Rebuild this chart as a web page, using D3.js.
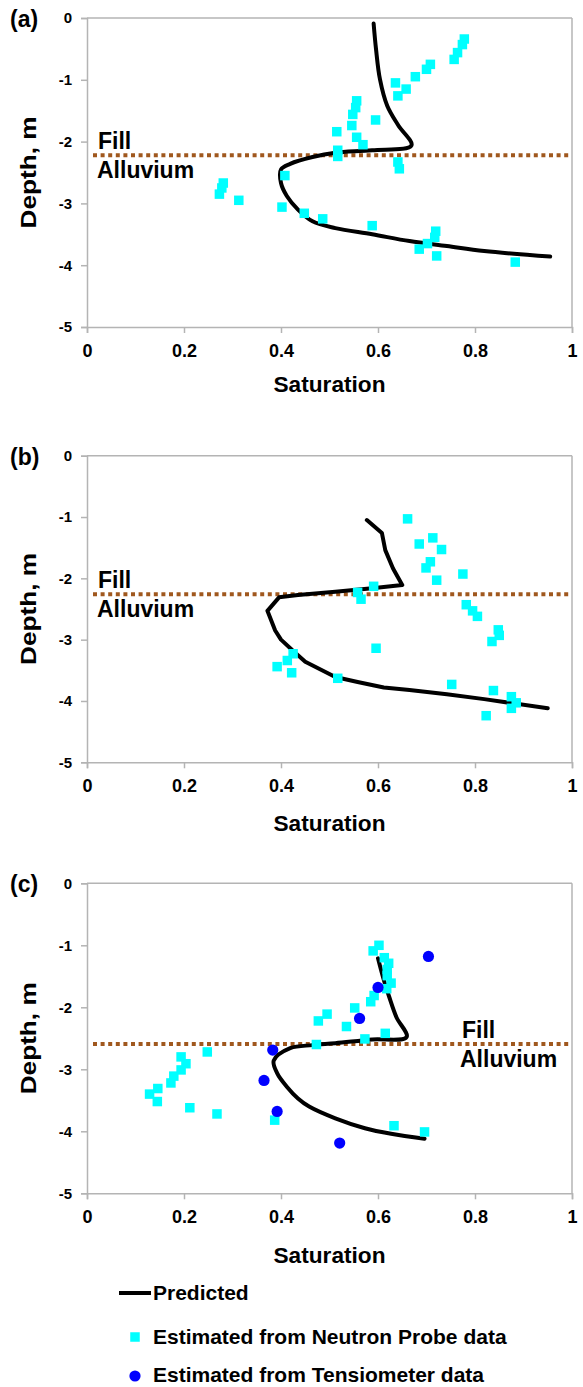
<!DOCTYPE html>
<html><head><meta charset="utf-8">
<script src="https://cdn.jsdelivr.net/npm/d3@7"></script>
<style>
body{margin:0;background:#fff}
svg{display:block}
text{font-family:"Liberation Sans",Arial,sans-serif;font-weight:bold;fill:#000}
</style>
</head><body>
<svg id="chart" width="583" height="1387"></svg>
<script>
// ---------- data ----------
const xTicks = [0, 0.2, 0.4, 0.6, 0.8, 1];
const yTicks = [0, -1, -2, -3, -4, -5];
const panelLabels = ["(a)", "(b)", "(c)"];
const boundaryDepth = [-2.22, -2.26, -2.59];
const layerLabels = ["Fill", "Alluvium"];
const legendLabels = ["Predicted", "Estimated from Neutron Probe data", "Estimated from Tensiometer data"];

// [saturation, depth]
const predictedA = [[0.591,-0.09],[0.596,-0.51],[0.604,-0.99],[0.619,-1.42],[0.642,-1.74],[0.669,-2.06],[0.588,-2.14],[0.512,-2.18],[0.465,-2.25],[0.419,-2.36],[0.400,-2.45],[0.400,-2.67],[0.412,-2.88],[0.435,-3.10],[0.465,-3.29],[0.512,-3.40],[0.588,-3.50],[0.665,-3.61],[0.742,-3.69],[0.819,-3.77],[0.955,-3.86]];
const predictedB = [[0.577,-1.05],[0.608,-1.26],[0.615,-1.54],[0.631,-1.84],[0.650,-2.11],[0.588,-2.16],[0.512,-2.22],[0.435,-2.27],[0.396,-2.31],[0.372,-2.53],[0.388,-2.85],[0.400,-3.00],[0.423,-3.17],[0.450,-3.36],[0.512,-3.61],[0.558,-3.69],[0.612,-3.78],[0.665,-3.82],[0.742,-3.89],[0.819,-3.97],[0.950,-4.12]];
const predictedC = [[0.600,-1.21],[0.612,-1.56],[0.623,-1.83],[0.638,-2.16],[0.659,-2.48],[0.588,-2.52],[0.512,-2.58],[0.465,-2.61],[0.419,-2.66],[0.385,-2.86],[0.392,-3.06],[0.412,-3.28],[0.435,-3.47],[0.458,-3.60],[0.512,-3.79],[0.573,-3.95],[0.627,-4.04],[0.696,-4.12]];

const neutronA = [[0.778,-0.34],[0.774,-0.43],[0.764,-0.56],[0.757,-0.67],[0.708,-0.75],[0.700,-0.83],[0.677,-0.95],[0.636,-1.05],[0.658,-1.15],[0.641,-1.26],[0.556,-1.34],[0.554,-1.45],[0.548,-1.56],[0.546,-1.74],[0.556,-1.93],[0.569,-2.05],[0.595,-1.65],[0.515,-1.84],[0.517,-2.14],[0.517,-2.24],[0.641,-2.33],[0.644,-2.44],[0.408,-2.55],[0.281,-2.67],[0.278,-2.75],[0.273,-2.85],[0.313,-2.95],[0.402,-3.06],[0.448,-3.16],[0.486,-3.25],[0.588,-3.36],[0.719,-3.45],[0.717,-3.55],[0.702,-3.65],[0.685,-3.74],[0.721,-3.85],[0.883,-3.95]];
const neutronB = [[0.661,-1.03],[0.685,-1.44],[0.713,-1.34],[0.731,-1.53],[0.708,-1.73],[0.699,-1.83],[0.721,-2.03],[0.775,-1.93],[0.591,-2.13],[0.558,-2.23],[0.565,-2.34],[0.782,-2.43],[0.795,-2.53],[0.805,-2.62],[0.848,-2.84],[0.850,-2.93],[0.835,-3.03],[0.596,-3.14],[0.425,-3.23],[0.413,-3.34],[0.392,-3.44],[0.422,-3.54],[0.517,-3.63],[0.752,-3.73],[0.838,-3.83],[0.875,-3.93],[0.885,-4.03],[0.875,-4.12],[0.823,-4.24]];
const neutronC = [[0.602,-1.00],[0.590,-1.09],[0.613,-1.20],[0.622,-1.29],[0.619,-1.39],[0.619,-1.49],[0.627,-1.61],[0.618,-1.70],[0.592,-1.81],[0.585,-1.91],[0.552,-2.01],[0.495,-2.11],[0.477,-2.22],[0.535,-2.31],[0.615,-2.42],[0.573,-2.51],[0.473,-2.60],[0.248,-2.72],[0.194,-2.80],[0.204,-2.91],[0.194,-3.01],[0.179,-3.11],[0.173,-3.22],[0.146,-3.31],[0.129,-3.40],[0.145,-3.52],[0.212,-3.62],[0.268,-3.72],[0.387,-3.82],[0.633,-3.91],[0.696,-4.01]];
const tensiometerC = [[0.704,-1.18],[0.600,-1.68],[0.562,-2.18],[0.383,-2.69],[0.365,-3.18],[0.392,-3.68],[0.521,-4.19]];

// ---------- layout ----------
const svg = d3.select("#chart");
const X0 = 87, X1 = 572;
const panels = [
  {label: panelLabels[0], top: 18,    bottom: 327,    pred: predictedA, curve: d3.curveCatmullRom.alpha(0.5), neutron: neutronA, tens: [], boundary: boundaryDepth[0], layerSide: "left",  titleDy: 65},
  {label: panelLabels[1], top: 455.7, bottom: 762.3,  pred: predictedB, curve: d3.curveLinear,                neutron: neutronB, tens: [], boundary: boundaryDepth[1], layerSide: "left",  titleDy: 69},
  {label: panelLabels[2], top: 883.3, bottom: 1193.3, pred: predictedC, curve: d3.curveCatmullRom.alpha(0.5), neutron: neutronC, tens: tensiometerC, boundary: boundaryDepth[2], layerSide: "right", titleDy: 70}
];

const AXIS_COLOR = "#b4b4b4";
const CYAN = "#00FFFF";
const BLUE = "#0000FF";
const BROWN = "#A0581E";
const SQ = 9.5;
const FONT = '"Liberation Sans",Arial,sans-serif';

panels.forEach(p => {
  const x = d3.scaleLinear().domain([0, 1]).range([X0, X1]);
  const y = d3.scaleLinear().domain([0, -5]).range([p.top, p.bottom]);
  const g = svg.append("g");

  // box (top and right borders)
  g.append("line").attr("x1", X0).attr("x2", X1).attr("y1", y(0)).attr("y2", y(0))
    .attr("stroke", AXIS_COLOR).attr("stroke-width", 1.5);
  g.append("line").attr("x1", X1).attr("x2", X1).attr("y1", y(0)).attr("y2", y(-5))
    .attr("stroke", AXIS_COLOR).attr("stroke-width", 1.5);

  // y axis
  const yAxis = g.append("g").attr("transform", `translate(${X0},0)`)
    .call(d3.axisLeft(y).tickValues(yTicks).tickSize(6).tickPadding(9).tickFormat(d => String(d)));
  yAxis.select(".domain").attr("stroke", AXIS_COLOR).attr("stroke-width", 1.5);
  yAxis.selectAll(".tick line").attr("stroke", AXIS_COLOR).attr("stroke-width", 1.5);
  yAxis.selectAll(".tick text").style("font-size", "15px").style("font-family", FONT).style("font-weight", "bold").attr("fill", "#000");

  // x axis
  const xAxis = g.append("g").attr("transform", `translate(0,${y(-5)})`)
    .call(d3.axisBottom(x).tickValues(xTicks).tickSize(6).tickPadding(11).tickFormat(d => String(d)));
  xAxis.select(".domain").attr("stroke", AXIS_COLOR).attr("stroke-width", 1.5);
  xAxis.selectAll(".tick text").style("font-size", "18px").style("font-family", FONT).style("font-weight", "bold").attr("fill", "#000");
  xAxis.selectAll(".tick line").attr("stroke", AXIS_COLOR).attr("stroke-width", 1.5);

  // titles
  g.append("text").attr("x", (X0 + X1) / 2).attr("y", y(-5) + p.titleDy)
    .attr("text-anchor", "middle").style("font-size", "22px")
    .attr("textLength", 112).attr("lengthAdjust", "spacingAndGlyphs").text("Saturation");
  const midY = (y(0) + y(-5)) / 2;
  g.append("text").attr("transform", `translate(36,${midY}) rotate(-90)`)
    .attr("text-anchor", "middle").style("font-size", "22px")
    .attr("textLength", 112).attr("lengthAdjust", "spacingAndGlyphs").text("Depth, m");
  g.append("text").attr("x", 10).attr("y", y(0) + 9).style("font-size", "23px").text(p.label);

  // boundary dotted line
  const by = y(p.boundary);
  g.append("line").attr("x1", X0 + 6).attr("x2", X1 - 2).attr("y1", by).attr("y2", by)
    .attr("stroke", BROWN).attr("stroke-width", 4).attr("stroke-dasharray", "4,3.6");
  const lx = p.layerSide === "left" ? 97 : 460;
  g.append("text").attr("x", lx + (p.layerSide === "left" ? 1 : 2)).attr("y", by - 6).style("font-size", "23px").text(layerLabels[0]);
  g.append("text").attr("x", lx).attr("y", by + 23).style("font-size", "23px").text(layerLabels[1]);

  // predicted line
  const line = d3.line().x(d => x(d[0])).y(d => y(d[1])).curve(p.curve);
  g.append("path").datum(p.pred).attr("d", line).attr("fill", "none")
    .attr("stroke", "#000").attr("stroke-width", 4).attr("stroke-linejoin", "round").attr("stroke-linecap", "round");

  // neutron probe squares
  g.selectAll("rect.np").data(p.neutron).join("rect").attr("class", "np")
    .attr("x", d => x(d[0]) - SQ / 2).attr("y", d => y(d[1]) - SQ / 2)
    .attr("width", SQ).attr("height", SQ).attr("fill", CYAN);

  // tensiometer circles
  g.selectAll("circle.ts").data(p.tens).join("circle").attr("class", "ts")
    .attr("cx", d => x(d[0])).attr("cy", d => y(d[1])).attr("r", 5.6).attr("fill", BLUE);
});

// ---------- legend ----------
const lg = svg.append("g");
lg.append("line").attr("x1", 119).attr("x2", 151).attr("y1", 1293).attr("y2", 1293)
  .attr("stroke", "#000").attr("stroke-width", 4);
lg.append("text").attr("x", 153).attr("y", 1300).style("font-size", "21px").text(legendLabels[0]);
lg.append("rect").attr("x", 135 - SQ / 2).attr("y", 1337 - SQ / 2).attr("width", SQ).attr("height", SQ).attr("fill", CYAN);
lg.append("text").attr("x", 153).attr("y", 1344).style("font-size", "21px").text(legendLabels[1]);
lg.append("circle").attr("cx", 135).attr("cy", 1376).attr("r", 5.6).attr("fill", BLUE);
lg.append("text").attr("x", 153).attr("y", 1382).style("font-size", "21px").text(legendLabels[2]);
</script>
</body></html>
